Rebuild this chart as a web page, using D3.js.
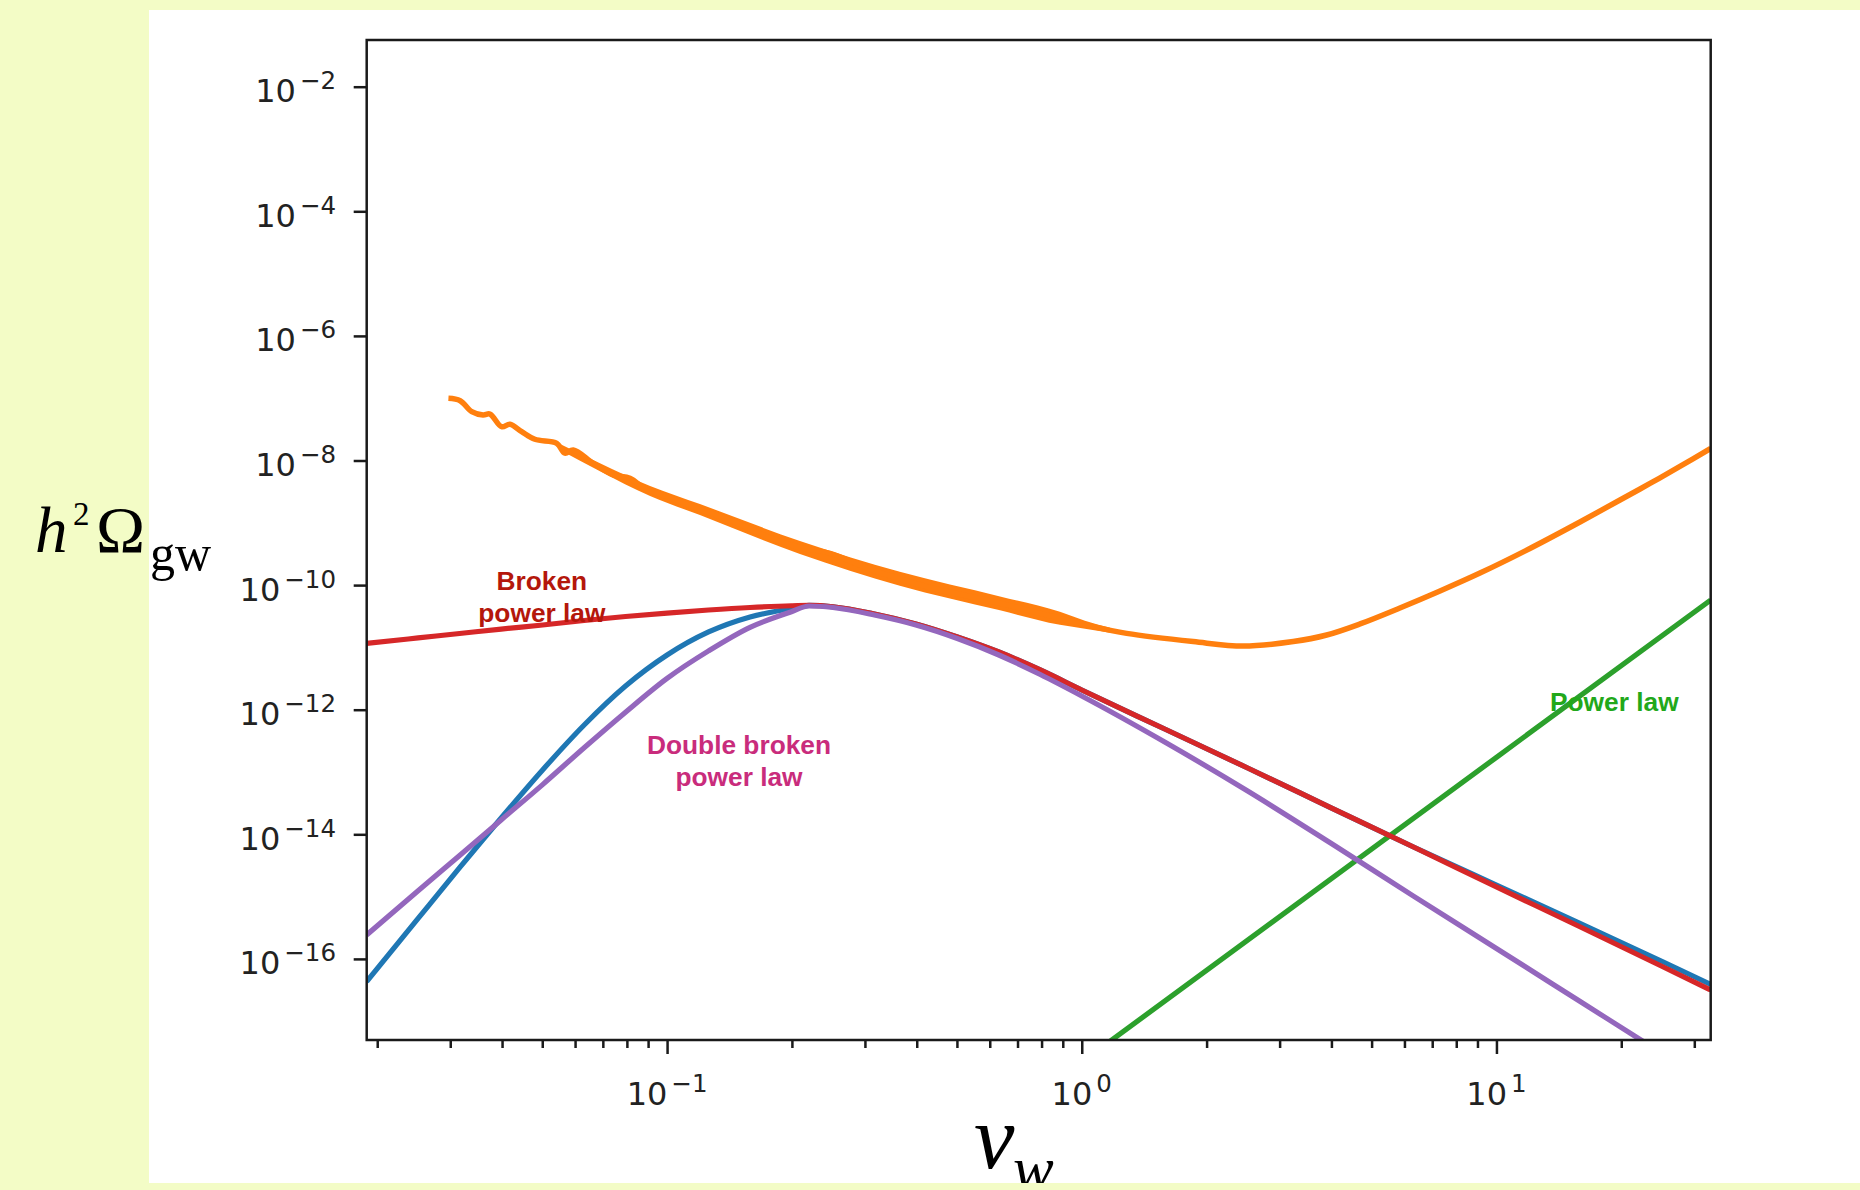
<!DOCTYPE html>
<html>
<head>
<meta charset="utf-8">
<script src="https://cdn.jsdelivr.net/npm/d3@7"></script>
<style>
  html, body { margin: 0; padding: 0; background: #f3fcc6; }
  svg { display: block; }
</style>
</head>
<body>
<svg id="chart" width="1860" height="1190"></svg>
<script>
// ---- Spectral templates, sampled on a shared wall-speed grid ----
const nuGrid = [0.01886, 0.0251, 0.0316, 0.0398, 0.0501, 0.0631, 0.0794, 0.1, 0.1259, 0.1585,
  0.1995, 0.22, 0.2512, 0.3162, 0.3981, 0.5012, 0.631, 0.7943, 1, 1.585,
  2.512, 3.981, 6.31, 10, 15.85, 25.12, 32.86];

const blueOmega = [4.31e-17, 4.46e-16, 2.91e-15, 1.83e-14, 1.08e-13, 5.68e-13, 2.40e-12, 7.55e-12, 1.77e-11, 3.08e-11,
  4.21e-11, 4.71e-11, 4.49e-11, 3.44e-11, 2.38e-11, 1.47e-11, 8.43e-12, 4.34e-12, 2.07e-12, 4.90e-13,
  1.16e-13, 2.69e-14, 6.25e-15, 1.53e-15, 3.77e-16, 9.08e-17, 3.88e-17];

const brokenOmega = [1.16e-11, 1.42e-11, 1.67e-11, 1.97e-11, 2.29e-11, 2.70e-11, 3.13e-11, 3.56e-11, 3.98e-11, 4.37e-11,
  4.66e-11, 4.71e-11, 4.49e-11, 3.44e-11, 2.38e-11, 1.47e-11, 8.43e-12, 4.34e-12, 2.07e-12, 4.90e-13,
  1.16e-13, 2.69e-14, 6.25e-15, 1.43e-15, 3.31e-16, 7.55e-17, 3.17e-17];

const doubleBrokenOmega = [2.42e-16, 1.24e-15, 4.58e-15, 1.70e-14, 6.28e-14, 2.45e-13, 9.12e-13, 3.18e-12, 8.79e-12, 2.10e-11,
  3.74e-11, 4.62e-11, 4.37e-11, 3.31e-11, 2.29e-11, 1.39e-11, 7.55e-12, 3.67e-12, 1.66e-12, 3.03e-13,
  4.95e-14, 7.24e-15, 1.02e-15, 1.47e-16, 2.11e-17, 3.03e-18, 9.82e-19];

// ---- Pure power law ----
const powerNu = [1, 10, 32.86];
const powerOmega = [2.21e-18, 1.72e-13, 5.77e-11];

// ---- Sensitivity curve (noisy at low speeds) ----
const sensNu = [0.0297, 0.0317, 0.0338, 0.0360, 0.0374, 0.0399, 0.0418, 0.0446, 0.0480, 0.0542,
  0.0567, 0.0594, 0.0664, 0.0742, 0.0814, 0.0893, 0.0979, 0.1178, 0.1418, 0.1706,
  0.2054, 0.2470, 0.2918, 0.3262, 0.4227, 0.6117, 0.8859, 1.066, 1.283, 1.857,
  2.451, 3.236, 3.896, 4.689, 5.851, 7.309, 9.125, 12.04, 15.90, 19.86,
  23.46, 27.70, 32.86];
const sensOmega = [9.96e-8, 9.12e-8, 6.07e-8, 5.37e-8, 5.57e-8, 3.49e-8, 3.81e-8, 2.90e-8, 2.19e-8, 1.89e-8,
  1.31e-8, 1.48e-8, 9.02e-9, 5.85e-9, 5.18e-9, 3.37e-9, 2.79e-9, 1.71e-9, 1.11e-9, 6.37e-10,
  4.13e-10, 3.24e-10, 2.10e-10, 1.58e-10, 9.42e-11, 5.42e-11, 2.93e-11, 2.15e-11, 1.68e-11, 1.24e-11,
  1.05e-11, 1.24e-11, 1.58e-11, 2.38e-11, 4.29e-11, 8.04e-11, 1.56e-10, 3.87e-10, 1.03e-9, 2.32e-9,
  4.28e-9, 8.02e-9, 1.56e-8];
// scatter envelope of the sensitivity estimate
const scatterNu = [0.0552, 0.0689, 0.091, 0.12, 0.2091, 0.3641, 0.6351, 0.8859, 1.018, 1.17];
const scatterHi = [1.84e-8, 9.06e-9, 3.90e-9, 2.00e-9, 5.11e-10, 1.64e-10, 6.59e-11, 3.73e-11, 2.69e-11, 2.07e-11];
const scatterLo = [1.48e-8, 6.73e-9, 2.69e-9, 1.33e-9, 3.16e-10, 9.77e-11, 3.93e-11, 2.31e-11, 2.00e-11, 1.72e-11];

// ---- Axis ticks ----
const xTickExp = [-1, 0, 1];
const yTickExp = [-2, -4, -6, -8, -10, -12, -14, -16];

// ---- Annotations (anchor = centre of the first baseline) ----
const annotations = [
  { lines: ["Broken", "power law"], nu: 0.0499, omega: 8.34e-11, color: "#b4170b" },
  { lines: ["Double broken", "power law"], nu: 0.1491, omega: 1.95e-13, color: "#c92c7c" },
  { lines: ["Power law"], nu: 19.24, omega: 9.64e-13, color: "#22a81a" }
];

// ================= drawing =================
const svg = d3.select("#chart");
const frame = { left: 366.7, right: 1710.7, top: 40, bottom: 1040 };

const x = d3.scaleLog().domain([0.018865, 32.86]).range([frame.left, frame.right]);
const y = d3.scaleLog().domain([Math.pow(10, -17.3017), Math.pow(10, -1.2504)]).range([frame.bottom, frame.top]);

// white figure panel
svg.append("rect").attr("x", 149).attr("y", 10).attr("width", 1711).attr("height", 1173).attr("fill", "#ffffff");

svg.append("defs").append("clipPath").attr("id", "plotClip")
  .append("rect").attr("x", frame.left).attr("y", frame.top)
  .attr("width", frame.right - frame.left).attr("height", frame.bottom - frame.top);

const plotG = svg.append("g").attr("clip-path", "url(#plotClip)");

const line = d3.line().x(d => x(d[0])).y(d => y(d[1])).curve(d3.curveMonotoneX);
const zip = (a, b) => a.map((v, i) => [v, b[i]]);
const lw = 5.2;

// blue template
plotG.append("path").datum(zip(nuGrid, blueOmega)).attr("d", line)
  .attr("fill", "none").attr("stroke", "#1f77b4").attr("stroke-width", lw);

// sensitivity: scatter band + central line
const band = d3.area().x(d => x(d[0])).y0(d => y(d[1])).y1(d => y(d[2])).curve(d3.curveMonotoneX);
plotG.append("path").datum(scatterNu.map((v, i) => [v, scatterLo[i], scatterHi[i]])).attr("d", band)
  .attr("fill", "#ff7f0e").attr("stroke", "none");
plotG.append("path").datum(zip(sensNu, sensOmega))
  .attr("d", d3.line().x(d => x(d[0])).y(d => y(d[1])).curve(d3.curveCatmullRom.alpha(0.5)))
  .attr("fill", "none").attr("stroke", "#ff7f0e").attr("stroke-width", 5.5).attr("stroke-linejoin", "round");

// power law
plotG.append("path").datum(zip(powerNu, powerOmega)).attr("d", d3.line().x(d => x(d[0])).y(d => y(d[1])))
  .attr("fill", "none").attr("stroke", "#2ca02c").attr("stroke-width", lw);

// broken power law
plotG.append("path").datum(zip(nuGrid, brokenOmega)).attr("d", line)
  .attr("fill", "none").attr("stroke", "#d62728").attr("stroke-width", lw);

// double broken power law
plotG.append("path").datum(zip(nuGrid, doubleBrokenOmega)).attr("d", line)
  .attr("fill", "none").attr("stroke", "#9467bd").attr("stroke-width", lw);

// ---- axes ----
const tickColor = "#1a1a1a";
const xMinor = x.ticks().filter(v => Math.abs(Math.log10(v) - Math.round(Math.log10(v))) > 1e-6);
const xMajor = xTickExp.map(e => Math.pow(10, e));
const yMajor = yTickExp.map(e => Math.pow(10, e));

function styleAxis(g) {
  g.select(".domain").remove();
  g.selectAll(".tick line").attr("stroke", tickColor).attr("stroke-width", 2.5);
}

svg.append("g").attr("transform", `translate(0,${frame.bottom})`)
  .call(d3.axisBottom(x).tickValues(xMinor).tickSize(8).tickFormat(""))
  .call(styleAxis);
svg.append("g").attr("transform", `translate(0,${frame.bottom})`)
  .call(d3.axisBottom(x).tickValues(xMajor).tickSize(14).tickFormat(""))
  .call(styleAxis);
svg.append("g").attr("transform", `translate(${frame.left},0)`)
  .call(d3.axisLeft(y).tickValues(yMajor).tickSize(13).tickFormat(""))
  .call(styleAxis);

// axes frame
svg.append("rect").attr("x", frame.left).attr("y", frame.top)
  .attr("width", frame.right - frame.left).attr("height", frame.bottom - frame.top)
  .attr("fill", "none").attr("stroke", tickColor).attr("stroke-width", 2.5);

const tickFont = "'DejaVu Sans', sans-serif";
const fmtExp = e => (e < 0 ? "\u2212" : "") + Math.abs(e);

function tickLabel(t, e) {
  t.append("tspan").text("10");
  t.append("tspan").attr("font-size", 24.5).attr("dx", 4).attr("dy", -13).text(fmtExp(e));
}

// x tick labels
xTickExp.forEach(e => {
  const t = svg.append("text").attr("x", x(Math.pow(10, e))).attr("y", 1105)
    .attr("text-anchor", "middle").attr("font-family", tickFont).attr("font-size", 32).attr("fill", "#222");
  tickLabel(t, e);
});

// y tick labels
yTickExp.forEach(e => {
  const t = svg.append("text").attr("x", 336).attr("y", y(Math.pow(10, e)) + 15.5)
    .attr("text-anchor", "end").attr("font-family", tickFont).attr("font-size", 32).attr("fill", "#222");
  tickLabel(t, e);
});

// ---- axis titles ----
const serif = "'Liberation Serif', 'Times New Roman', serif";
const yt = svg.append("text").attr("font-family", serif).attr("fill", "#000");
yt.append("tspan").attr("x", 35).attr("y", 552).attr("font-size", 65).attr("font-style", "italic").text("h");
yt.append("tspan").attr("x", 73).attr("y", 525).attr("font-size", 33).text("2");
yt.append("tspan").attr("x", 96).attr("y", 552).attr("font-size", 66).text("\u03A9");
yt.append("tspan").attr("x", 150).attr("y", 570).attr("font-size", 50).text("gw");

const xt = svg.append("text").attr("font-family", serif).attr("fill", "#000").attr("font-style", "italic");
xt.append("tspan").attr("x", 974).attr("y", 1168).attr("font-size", 91).text("v");
xt.append("tspan").attr("x", 1013).attr("y", 1189).attr("font-size", 61).text("w");

// ---- curve annotations ----
annotations.forEach(a => {
  const t = svg.append("text").attr("font-family", "'Liberation Sans', Arial, sans-serif")
    .attr("font-weight", "bold").attr("font-size", 26.3).attr("fill", a.color).attr("text-anchor", "middle");
  a.lines.forEach((s, i) => {
    t.append("tspan").attr("x", x(a.nu)).attr("y", y(a.omega) + i * 32).text(s);
  });
});

// lower strip of the page background over the panel edge
svg.append("rect").attr("x", 0).attr("y", 1183).attr("width", 1860).attr("height", 7).attr("fill", "#f3fcc6");
</script>
</body>
</html>
